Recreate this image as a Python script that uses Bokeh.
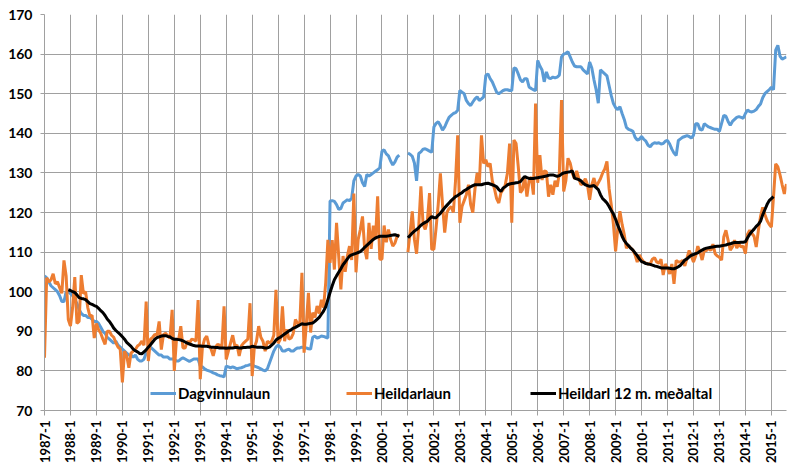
import math
from bokeh.plotting import figure
from bokeh.models import ColumnDataSource, Range1d, FixedTicker, Legend, LegendItem
from bokeh.embed import file_html
from bokeh.resources import INLINE

nan = float("nan")

# Monthly index values, 1987-1 .. 2015-8 (12 values per year)
dagvinnulaun = [
    104, 103.5, 102.5, 101.5, 101, 100.5, 100, 99, 97.5, 97.5, 100, 100,            # 1987
    99.5, 99, 98, 97, 95.5, 94.5, 94, 94, 93.5, 93.5, 93, 92.5,                      # 1988
    92.5, 92, 91, 90, 89.5, 88.5, 88, 87.5, 87, 87.5, 86.5, 86,                      # 1989
    85.5, 85, 84.5, 84, 84, 83.5, 84, 83, 82.5, 82.5, 83, 84.5,                      # 1990
    86, 86, 85.5, 85, 84.5, 84, 84, 83.5, 83.5, 83.5, 83, 83,                        # 1991
    83, 82.5, 82.5, 83, 83.3, 83, 82.7, 82.4, 82.7, 83, 83, 83,                      # 1992
    81.2, 81, 80.5, 80.2, 80, 79.8, 79.5, 79.3, 79, 78.8, 78.7, 78.5,                # 1993
    81.2, 81, 80.8, 81, 80.8, 80.5, 80.7, 80.8, 81, 81.3, 81.4, 81.6,                # 1994
    81.5, 81.2, 81, 80.8, 80.5, 80.2, 80, 80.5, 82, 83.5, 85, 86,                    # 1995
    86.5, 86, 85, 85, 85.3, 85.5, 85, 85, 85.5, 85.8, 85.8, 86,                      # 1996
    85.8, 85.8, 85.6, 85.5, 88.5, 88.8, 88.3, 88.5, 88.8, 88.7, 88.5, 88.3,          # 1997
    122.9, 123, 122.8, 122, 120.8, 121, 122.4, 122.8, 123.2, 123, 123.6, 128,        # 1998
    129.2, 129.6, 129.2, 127.5, 126.6, 129.6, 129.2, 129.6, 130, 130.4, 130.8, 131.3,  # 1999
    135.5, 135.8, 134.8, 134.3, 133, 132, 132.8, 134, 134.5, nan, nan, nan,          # 2000
    135, 134.7, 134.2, 132.5, 128, 134.9, 135.3, 136, 136.1, 135.8, 135.5, 135.2,    # 2001
    141.6, 142.5, 142.9, 142, 140.8, 141.6, 142.9, 144, 144.5, 145, 145.2, 145.8,    # 2002
    150.8, 150.4, 150, 148.3, 147.5, 147, 147.9, 148.7, 149.2, 148.3, 148.7, 149.2,  # 2003
    154.6, 155, 153.8, 153, 151.7, 150.4, 150, 150.4, 150.8, 151, 151, 150.8,        # 2004
    150.8, 156.5, 156.3, 155, 153.5, 153, 153.8, 153.8, 151.7, 151.3, 151, 150.8,    # 2005
    158.4, 157, 156, 153, 155.5, 154, 153.8, 154.2, 154, 154.2, 154.7, 159.3,        # 2006
    160, 160.2, 160.6, 159.3, 158, 157, 156.8, 156.8, 156.8, 156, 155.5, 155,        # 2007
    158, 156.5, 153.5, 151, 147.6, 156, 155.5, 155, 154.5, 152, 149.5, 147.5,        # 2008
    146.5, 146, 146.7, 145, 143.5, 141.5, 141, 140.8, 140.5, 139, 138.3, 138.5,      # 2009
    139.2, 138.5, 138, 137, 136.6, 137.3, 137.6, 137.5, 137.6, 137.3, 137.4, 138,    # 2010
    138.2, 137.3, 136, 135, 134.4, 138.2, 138.6, 139, 139.2, 139.4, 139.2, 138.8,    # 2011
    139.5, 142.4, 142.4, 141, 140.8, 142.4, 142, 141.6, 141.4, 141.2, 141, 141,      # 2012
    140.5, 142.5, 144.5, 144.3, 143, 142, 143, 143.5, 144, 144.2, 144, 143.8,        # 2013
    145, 145.9, 145.5, 145.4, 145.6, 146, 146.8, 147.4, 149, 150, 150.5, 151,        # 2014
    151.6, 151, 161, 162.2, 159.5, 158.7, 159, 159.3,                                # 2015
]

heildarlaun = [
    83.3, 103.5, 102.5, 103, 104.5, 102, 102.5, 101, 99.6, 107.9, 104, 93,           # 1987
    91.3, 96, 103.7, 92, 92.5, 104.2, 99.5, 100, 96, 93.8, 94, 88.3,                 # 1988
    92, 90.4, 89.5, 88, 86.7, 90, 90, 89, 88.5, 87.1, 86, 85.5,                      # 1989
    77.1, 85, 83.8, 80.8, 84.5, 85, 85.4, 86.3, 86.7, 87.5, 86.5, 97.5,              # 1990
    82.5, 88, 88.5, 89.2, 89, 92.5, 85.4, 89.2, 89.5, 88.8, 88.3, 95.4,              # 1991
    80, 87.9, 87.9, 91.3, 85.8, 85.8, 87.5, 87, 88, 87.9, 87.5, 97.9,                # 1992
    77.9, 86, 88, 88.8, 86.5, 85.5, 83.8, 86, 86.7, 86.5, 86, 96.3,                  # 1993
    82.9, 85, 87, 89, 86.3, 86.5, 83.8, 86.3, 87, 87.5, 88, 97.1,                    # 1994
    78.7, 86, 87.5, 91.3, 88.5, 87.5, 85, 87.5, 87, 87.5, 89, 100.5,                 # 1995
    87, 88, 96.3, 87.5, 90.5, 88, 88.3, 89.5, 93, 92, 91.5, 104.8,                   # 1996
    84.6, 91.5, 99.7, 89.7, 94.7, 93.5, 96.4, 94.5, 98, 96, 102.3, 113.1,            # 1997
    107.3, 113, 105.6, 117.4, 109, 100.6, 109, 105, 109, 111.5, 108, 124.8,          # 1998
    104.9, 113.2, 115.7, 119, 110.8, 108.2, 117.4, 110.8, 116.7, 113.2, 124.1, 108.2,  # 1999
    108.2, 116.7, 112.5, 115.7, 113.2, 111.5, 112.3, 114, 114.4, nan, nan, nan,      # 2000
    110, 114.9, 120.3, 113.2, 109.6, 116.5, 126.6, 117, 115.7, 118, 124.9, 110.7,    # 2001
    110.7, 116, 122, 129.9, 122, 114.9, 120, 121, 121.5, 120, 128, 139.5,            # 2002
    117.4, 121.5, 123, 124.5, 127, 122, 120, 126, 130, 127, 139.5, 132.4,            # 2003
    133.3, 131.6, 132.4, 128, 126, 123.5, 122.4, 125, 125.8, 127, 130, 137.4,        # 2004
    117.4, 138.3, 137.4, 131.6, 125, 125.8, 129.1, 124, 128, 129, 124.5, 147.5,      # 2005
    127.5, 134.5, 128.2, 130.5, 130.3, 124, 127, 124.5, 128, 126.5, 130, 148.4,      # 2006
    125.3, 128, 133.7, 132.5, 130, 128.5, 130.5, 128.5, 127, 127.5, 128.5, 127,      # 2007
    123.2, 127, 128.7, 126.5, 127.5, 128.5, 130, 131, 132.9, 126, 121.9, 117,        # 2008
    110.2, 116, 120.3, 117, 114.4, 111, 111.7, 111, 110.5, 109.3, 107.5, 109.3,      # 2009
    108.2, 107.5, 107.2, 107, 107, 108.2, 108.6, 107.5, 107.2, 108.2, 104.2, 107,    # 2010
    106, 104.5, 107, 102, 107.9, 107.5, 107.5, 107.9, 106.5, 108.5, 110.4, 109,      # 2011
    107.5, 109, 111.5, 110, 108, 110.4, 110.4, 111, 110.4, 112, 109.6, 109,          # 2012
    108.7, 108, 113.8, 115.5, 113, 110.5, 111.3, 113, 111, 112, 111.3, 111.5,        # 2013
    109.6, 114.5, 115.5, 114.7, 114, 111.3, 115.5, 119, 121.3, 119.5, 118, 117,      # 2014
    116.3, 124, 132.3, 131.5, 129.5, 127, 124.7, 127.2,                              # 2015
]

medaltal_12m = [
    nan, nan, nan, nan, nan, nan, nan, nan, nan, nan, nan, 100.5,                    # 1987
    100.3, 100, 99.8, 99.2, 98.5, 98.3, 98.2, 98, 97.5, 97, 96.8, 96.5,              # 1988
    96.3, 95.8, 95.2, 94.7, 94, 93.1, 92.5, 91.7, 90.8, 90.2, 89.7, 89.2,            # 1989
    88.6, 88, 87.2, 86.7, 86.2, 85.5, 85.1, 84.8, 84.4, 84.3, 84.8, 85.3,            # 1990
    86, 86.6, 87.3, 88, 88.4, 88.6, 88.8, 88.9, 88.9, 88.7, 88.6, 88.2,              # 1991
    88, 88, 87.9, 87.8, 87.6, 87.3, 87, 86.8, 86.6, 86.4, 86.3, 86.3,                # 1992
    86.3, 86.2, 86.2, 86.2, 86.1, 86, 86, 85.9, 85.9, 85.8, 85.8, 85.8,              # 1993
    85.7, 85.8, 85.8, 85.8, 85.9, 85.9, 85.8, 85.8, 85.9, 85.9, 86, 86,              # 1994
    86.2, 86.1, 86, 86, 86, 85.9, 85.8, 85.8, 86, 86.5, 87, 87.8,                    # 1995
    88.2, 88.5, 88.9, 89.3, 89.7, 90.1, 90.4, 90.8, 91, 91.3, 91.6, 91.9,            # 1996
    91.8, 91.8, 91.9, 92, 92.1, 92.5, 93, 93.5, 94.3, 95.1, 96.2, 98,                # 1997
    99.8, 101.5, 103, 104, 104.9, 105.8, 106.8, 107.5, 108.3, 109, 109.3, 109.5,     # 1998
    109.7, 109.9, 110.1, 110.6, 111.2, 111.7, 112.2, 112.7, 113.2, 113.6, 113.8, 114,  # 1999
    114, 114, 114, 114.1, 114.2, 114.3, 114.4, 114.2, 114, nan, nan, nan,            # 2000
    113.6, 114.2, 114.8, 115.3, 115.7, 116.2, 116.8, 117.2, 117.5, 117.8, 118.4, 119,  # 2001
    118.7, 118.7, 119.3, 119.8, 120.5, 121.2, 121.8, 122.4, 123, 123.5, 124, 124.3,  # 2002
    124.7, 125, 125.5, 125.8, 126.2, 126.5, 126.8, 127, 127, 127, 127, 127.2,        # 2003
    127.3, 127.4, 127.2, 127, 126.8, 126.5, 125.8, 125.3, 126.2, 126.5, 127, 127.2,  # 2004
    127.3, 127.4, 127.5, 127.6, 127.8, 128.5, 129.1, 128.8, 128.6, 128.6, 128.6, 128.7,  # 2005
    128.8, 128.9, 129, 129.1, 129.2, 129.4, 129.5, 129.5, 129.3, 129.1, 129.3, 129.7,  # 2006
    130, 130.1, 130.2, 130.3, 130.5, 128.7, 128.5, 128.3, 128, 127.4, 127, 126.8,    # 2007
    126.6, 126.7, 126.8, 126.3, 125.8, 124.5, 123.5, 123, 122.4, 121.5, 120.5, 119.6,  # 2008
    118.3, 116.8, 115.5, 114, 112.9, 112.2, 111.6, 111, 110.5, 109.8, 109.1, 108.3,  # 2009
    107.6, 107.4, 107.1, 107, 106.9, 106.7, 106.5, 106.4, 106.2, 106, 106, 106,      # 2010
    106, 105.9, 105.8, 105.8, 106, 106.3, 106.7, 107.3, 108, 108.3, 108.8, 109.2,    # 2011
    109.4, 109.6, 109.8, 110.2, 110.5, 110.8, 111, 111.1, 111.2, 111.3, 111.4, 111.5,  # 2012
    111.5, 111.6, 111.7, 111.8, 112, 112.1, 112.3, 112.4, 112.4, 112.4, 112.5, 112.5,  # 2013
    112.6, 113.6, 114.5, 115.2, 115.8, 116.5, 117, 117.8, 119.4, 120.7, 122, 123,    # 2014
    123.5, 124, nan, nan, nan, nan, nan, nan,                                        # 2015
]

tick_labels = ["1987-1", "1988-1", "1989-1", "1990-1", "1991-1", "1992-1", "1993-1",
               "1994-1", "1995-1", "1996-1", "1997-1", "1998-1", "1999-1", "2000-1",
               "2001-1", "2002-1", "2003-1", "2004-1", "2005-1", "2006-1", "2007-1",
               "2008-1", "2009-1", "2010-1", "2011-1", "2012-1", "2013-1", "2014-1",
               "2015-1"]
y_ticks = [70, 80, 90, 100, 110, 120, 130, 140, 150, 160, 170]
series_names = ["Dagvinnulaun", "Heildarlaun", "Heildarl 12 m. meðaltal"]

n = len(dagvinnulaun)
month_idx = list(range(n))
src = ColumnDataSource(dict(x=month_idx, d=dagvinnulaun, h=heildarlaun, m=medaltal_12m))

FONT = "Lato"
GRID = "#a0a0a0"

p = figure(width=787, height=470, output_backend="svg", toolbar_location=None,
           x_range=Range1d(0, n - 1), y_range=Range1d(70, 170),
           min_border_left=44, min_border_right=1, min_border_top=14, min_border_bottom=60)
p.outline_line_color = None
p.background_fill_color = "white"

r1 = p.line("x", "d", source=src, line_color="#5B9BD5", line_width=3)
r2 = p.line("x", "h", source=src, line_color="#ED7D31", line_width=3)
r3 = p.line("x", "m", source=src, line_color="black", line_width=3)

xt = [12 * i for i in range(len(tick_labels))]
p.xaxis.ticker = FixedTicker(ticks=xt)
p.xaxis.major_label_overrides = {t: lab for t, lab in zip(xt, tick_labels)}
p.xaxis.major_label_orientation = math.pi / 2
p.yaxis.ticker = FixedTicker(ticks=y_ticks)

for ax in (p.xaxis[0], p.yaxis[0]):
    ax.axis_line_color = GRID
    ax.major_tick_line_color = GRID
    ax.minor_tick_line_color = None
    ax.major_tick_in = 0
    ax.major_label_text_font = FONT
    ax.major_label_text_font_style = "bold"
    ax.major_label_text_color = "black"
p.xaxis.major_label_text_font_size = "13px"
p.yaxis.major_label_text_font_size = "14px"
p.xaxis.major_tick_out = 5
p.yaxis.major_tick_out = 4
p.xaxis.major_label_standoff = 5
p.yaxis.major_label_standoff = 8

p.xgrid.grid_line_color = GRID
p.ygrid.grid_line_color = GRID
p.xgrid.grid_line_width = 1
p.ygrid.grid_line_width = 1

for r, name, xloc in zip([r1, r2, r3], series_names, [106, 302, 486]):
    leg = Legend(items=[LegendItem(label=name, renderers=[r])], location=(xloc, 7),
                 orientation="horizontal", background_fill_alpha=0, border_line_alpha=0,
                 padding=0, margin=0, spacing=0, glyph_width=26, glyph_height=20,
                 label_standoff=2, label_text_font=FONT, label_text_font_style="bold",
                 label_text_font_size="15px", label_text_color="black")
    p.add_layout(leg, "center")

open("out.html", "w").write(file_html(p, INLINE))
